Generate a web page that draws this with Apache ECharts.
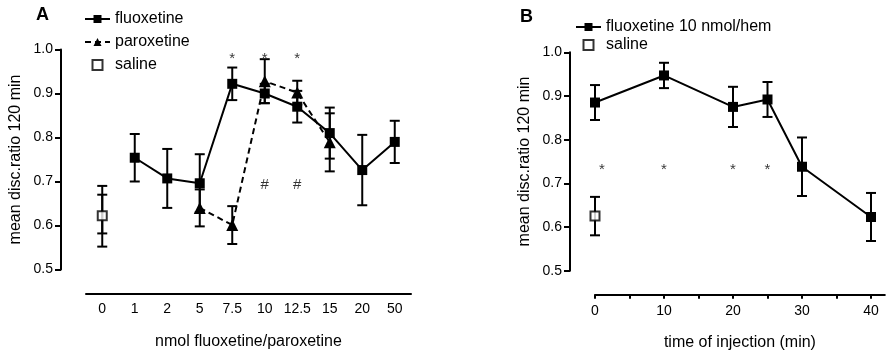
<!DOCTYPE html>
<html>
<head>
<meta charset="utf-8">
<script src="https://cdn.jsdelivr.net/npm/echarts@6/dist/echarts.min.js"></script>
<style>
  html, body { margin: 0; padding: 0; background: #fff; }
  #chart { width: 892px; height: 360px; }
</style>
</head>
<body>
<div id="chart"></div>
<script>
// 图A: 剂量
var doseLabels = ['0', '1', '2', '5', '7.5', '10', '12.5', '15', '20', '50']
var fluoxMean = [null, 0.754, 0.707, 0.696, 0.922, 0.900, 0.870, 0.810, 0.726, 0.790]
var fluoxErr = [null, 0.054, 0.067, 0.066, 0.037, 0.022, 0.036, 0.058, 0.080, 0.048]
var paroxMean = [null, null, null, 0.640, 0.601, 0.928, 0.902, 0.789, null, null]
var paroxErr = [null, null, null, 0.042, 0.043, 0.050, 0.027, 0.066, null, null]
var salineA = 0.622
var salineARanges = [[0.552, 0.690], [0.582, 0.670]]
var starsA = ['7.5', '10', '12.5']
var hashA = ['10', '12.5']

// 图B: 注射时间
var times = [0, 10, 20, 25, 30, 40]
var timeMean = [0.885, 0.947, 0.875, 0.892, 0.738, 0.623]
var timeErr = [0.040, 0.029, 0.046, 0.040, 0.067, 0.055]
var salineB = 0.625
var salineBErr = 0.044
var starsB = [1, 10, 20, 25]

var xTicksB = [0, 10, 20, 30, 40]
var xMinorB = [0, 5, 10, 15, 20, 25, 30, 35, 40]

var font = 'Liberation Sans, Arial, sans-serif'
// 图例里的空心方块(不拉伸)
var squareIcon = 'path://M0,0L10,0L10,10L0,10Z'

// 误差线
function errorBarItem (params, api) {
  var x = api.value(0)
  var top = api.coord([x, api.value(2)])
  var bot = api.coord([x, api.value(1)])
  var hw = 5
  var st = { stroke: '#000', lineWidth: 2 }
  return {
    type: 'group',
    children: [
      { type: 'line', shape: { x1: top[0], y1: top[1], x2: bot[0], y2: bot[1] }, style: st },
      { type: 'line', shape: { x1: top[0] - hw, y1: top[1], x2: top[0] + hw, y2: top[1] }, style: st },
      { type: 'line', shape: { x1: bot[0] - hw, y1: bot[1], x2: bot[0] + hw, y2: bot[1] }, style: st }
    ]
  }
}

function barData (xs, means, errs) {
  var out = []
  for (var i = 0; i < means.length; i++) {
    if (means[i] == null) continue
    out.push([xs[i], means[i] - errs[i], means[i] + errs[i]])
  }
  return out
}

function yAxisCfg (gridIndex) {
  return {
    gridIndex: gridIndex,
    type: 'value',
    min: 0.5,
    max: 1.0,
    interval: 0.1,
    offset: 25,
    name: 'mean disc.ratio 120 min',
    nameLocation: 'middle',
    nameGap: 37,
    nameTextStyle: { fontFamily: font, fontSize: 16, color: '#000' },
    axisLine: { show: true, onZero: false, lineStyle: { color: '#000', width: 2 } },
    axisTick: { show: true, length: 6, lineStyle: { color: '#000', width: 2 } },
    axisLabel: {
      fontFamily: font, fontSize: 14, color: '#000', margin: 8,
      formatter: function (v) { return v.toFixed(1) }
    },
    splitLine: { show: false }
  }
}

function textMarks (xAxisIndex, yAxisIndex, points, txt) {
  return {
    type: 'scatter',
    xAxisIndex: xAxisIndex,
    yAxisIndex: yAxisIndex,
    symbolSize: 1,
    itemStyle: { color: 'transparent' },
    silent: true,
    z: 5,
    label: {
      show: true, position: 'inside', formatter: txt,
      fontFamily: font, fontSize: 15, color: '#000'
    },
    data: points
  }
}

var doseIdx = doseLabels.map(function (d, i) { return i })
var salineAData = salineARanges.map(function (r) { return [0, r[0], r[1]] })

var chart = echarts.init(document.getElementById('chart'))
var option = {
  animation: false,
  backgroundColor: '#fff',
  textStyle: { fontFamily: font },
  title: [
    { text: 'A', left: 31, top: 1, textStyle: { fontFamily: font, fontSize: 18, fontWeight: 'bold', color: '#000' } },
    { text: 'B', left: 515, top: 3, textStyle: { fontFamily: font, fontSize: 18, fontWeight: 'bold', color: '#000' } }
  ],
  legend: [
    {
      data: ['fluoxetine', 'paroxetine', { name: 'saline', icon: squareIcon }],
      orient: 'vertical', left: 79, top: 6,
      itemWidth: 25, itemHeight: 10, itemGap: 7,
      symbolKeepAspect: true,
      textStyle: { fontFamily: font, fontSize: 16, color: '#000' }
    },
    {
      data: ['fluoxetine 10 nmol/hem', { name: 'saline', icon: squareIcon }],
      orient: 'vertical', left: 570, top: 14,
      itemWidth: 25, itemHeight: 10, itemGap: 2,
      symbolKeepAspect: true,
      textStyle: { fontFamily: font, fontSize: 16, color: '#000' }
    }
  ],
  grid: [
    { left: 86, top: 49.5, width: 325, height: 220 },
    { left: 595, top: 52.3, width: 289.8, height: 218.4 }
  ],
  xAxis: [
    {
      gridIndex: 0,
      type: 'category',
      data: doseLabels,
      boundaryGap: true,
      offset: 24,
      name: 'nmol fluoxetine/paroxetine',
      nameLocation: 'middle',
      nameGap: 40,
      nameTextStyle: { fontFamily: font, fontSize: 16, color: '#000' },
      axisLine: { onZero: false, lineStyle: { color: '#000', width: 2 } },
      axisTick: { alignWithLabel: true, length: 4, lineStyle: { color: '#000', width: 2 } },
      axisLabel: { fontFamily: font, fontSize: 14, color: '#000', margin: 9, interval: 0 },
      splitLine: { show: false }
    },
    {
      gridIndex: 1,
      type: 'value',
      min: 0,
      max: 42,
      offset: 24,
      name: 'time of injection (min)',
      nameLocation: 'middle',
      nameGap: 40,
      nameTextStyle: { fontFamily: font, fontSize: 16, color: '#000' },
      axisLine: { onZero: false, lineStyle: { color: '#000', width: 2 } },
      axisTick: { length: 4, customValues: xMinorB, lineStyle: { color: '#000', width: 2 } },
      axisLabel: { fontFamily: font, fontSize: 14, color: '#000', margin: 9, customValues: xTicksB },
      splitLine: { show: false }
    }
  ],
  yAxis: [yAxisCfg(0), yAxisCfg(1)],
  series: [
    // 图A
    {
      type: 'custom', xAxisIndex: 0, yAxisIndex: 0, renderItem: errorBarItem, z: 3,
      data: barData(doseIdx, fluoxMean, fluoxErr)
    },
    {
      type: 'custom', xAxisIndex: 0, yAxisIndex: 0, renderItem: errorBarItem, z: 3,
      data: barData(doseIdx, paroxMean, paroxErr)
    },
    {
      type: 'custom', xAxisIndex: 0, yAxisIndex: 0, renderItem: errorBarItem, z: 3,
      data: salineAData
    },
    {
      name: 'fluoxetine', type: 'line', xAxisIndex: 0, yAxisIndex: 0, z: 4,
      data: fluoxMean, symbol: 'rect', symbolSize: 10,
      itemStyle: { color: '#000' },
      lineStyle: { color: '#000', width: 2 }
    },
    {
      name: 'paroxetine', type: 'line', xAxisIndex: 0, yAxisIndex: 0, z: 4,
      data: paroxMean, symbol: 'triangle', symbolSize: 12,
      itemStyle: { color: '#000' },
      lineStyle: { color: '#000', width: 2, type: [6, 4] }
    },
    {
      name: 'saline', type: 'scatter', xAxisIndex: 0, yAxisIndex: 0, z: 4,
      data: [[0, salineA]], symbol: 'rect', symbolSize: 9,
      itemStyle: { color: '#fff', borderColor: '#000', borderWidth: 2 }
    },
    textMarks(0, 0, starsA.map(function (c) { return [c, 0.978] }), '*'),
    textMarks(0, 0, hashA.map(function (c) { return [c, 0.692] }), '#'),
    // 图B
    {
      type: 'custom', xAxisIndex: 1, yAxisIndex: 1, renderItem: errorBarItem, z: 3,
      data: barData(times, timeMean, timeErr).concat([[0, salineB - salineBErr, salineB + salineBErr]])
    },
    {
      name: 'fluoxetine 10 nmol/hem', type: 'line', xAxisIndex: 1, yAxisIndex: 1, z: 4,
      data: times.map(function (t, i) { return [t, timeMean[i]] }),
      symbol: 'rect', symbolSize: 10,
      itemStyle: { color: '#000' },
      lineStyle: { color: '#000', width: 2 }
    },
    {
      name: 'saline', type: 'scatter', xAxisIndex: 1, yAxisIndex: 1, z: 4,
      data: [[0, salineB]], symbol: 'rect', symbolSize: 9,
      itemStyle: { color: '#fff', borderColor: '#000', borderWidth: 2 }
    },
    textMarks(1, 1, starsB.map(function (t) { return [t, 0.731] }), '*')
  ]
}
chart.setOption(option)
</script>
</body>
</html>
